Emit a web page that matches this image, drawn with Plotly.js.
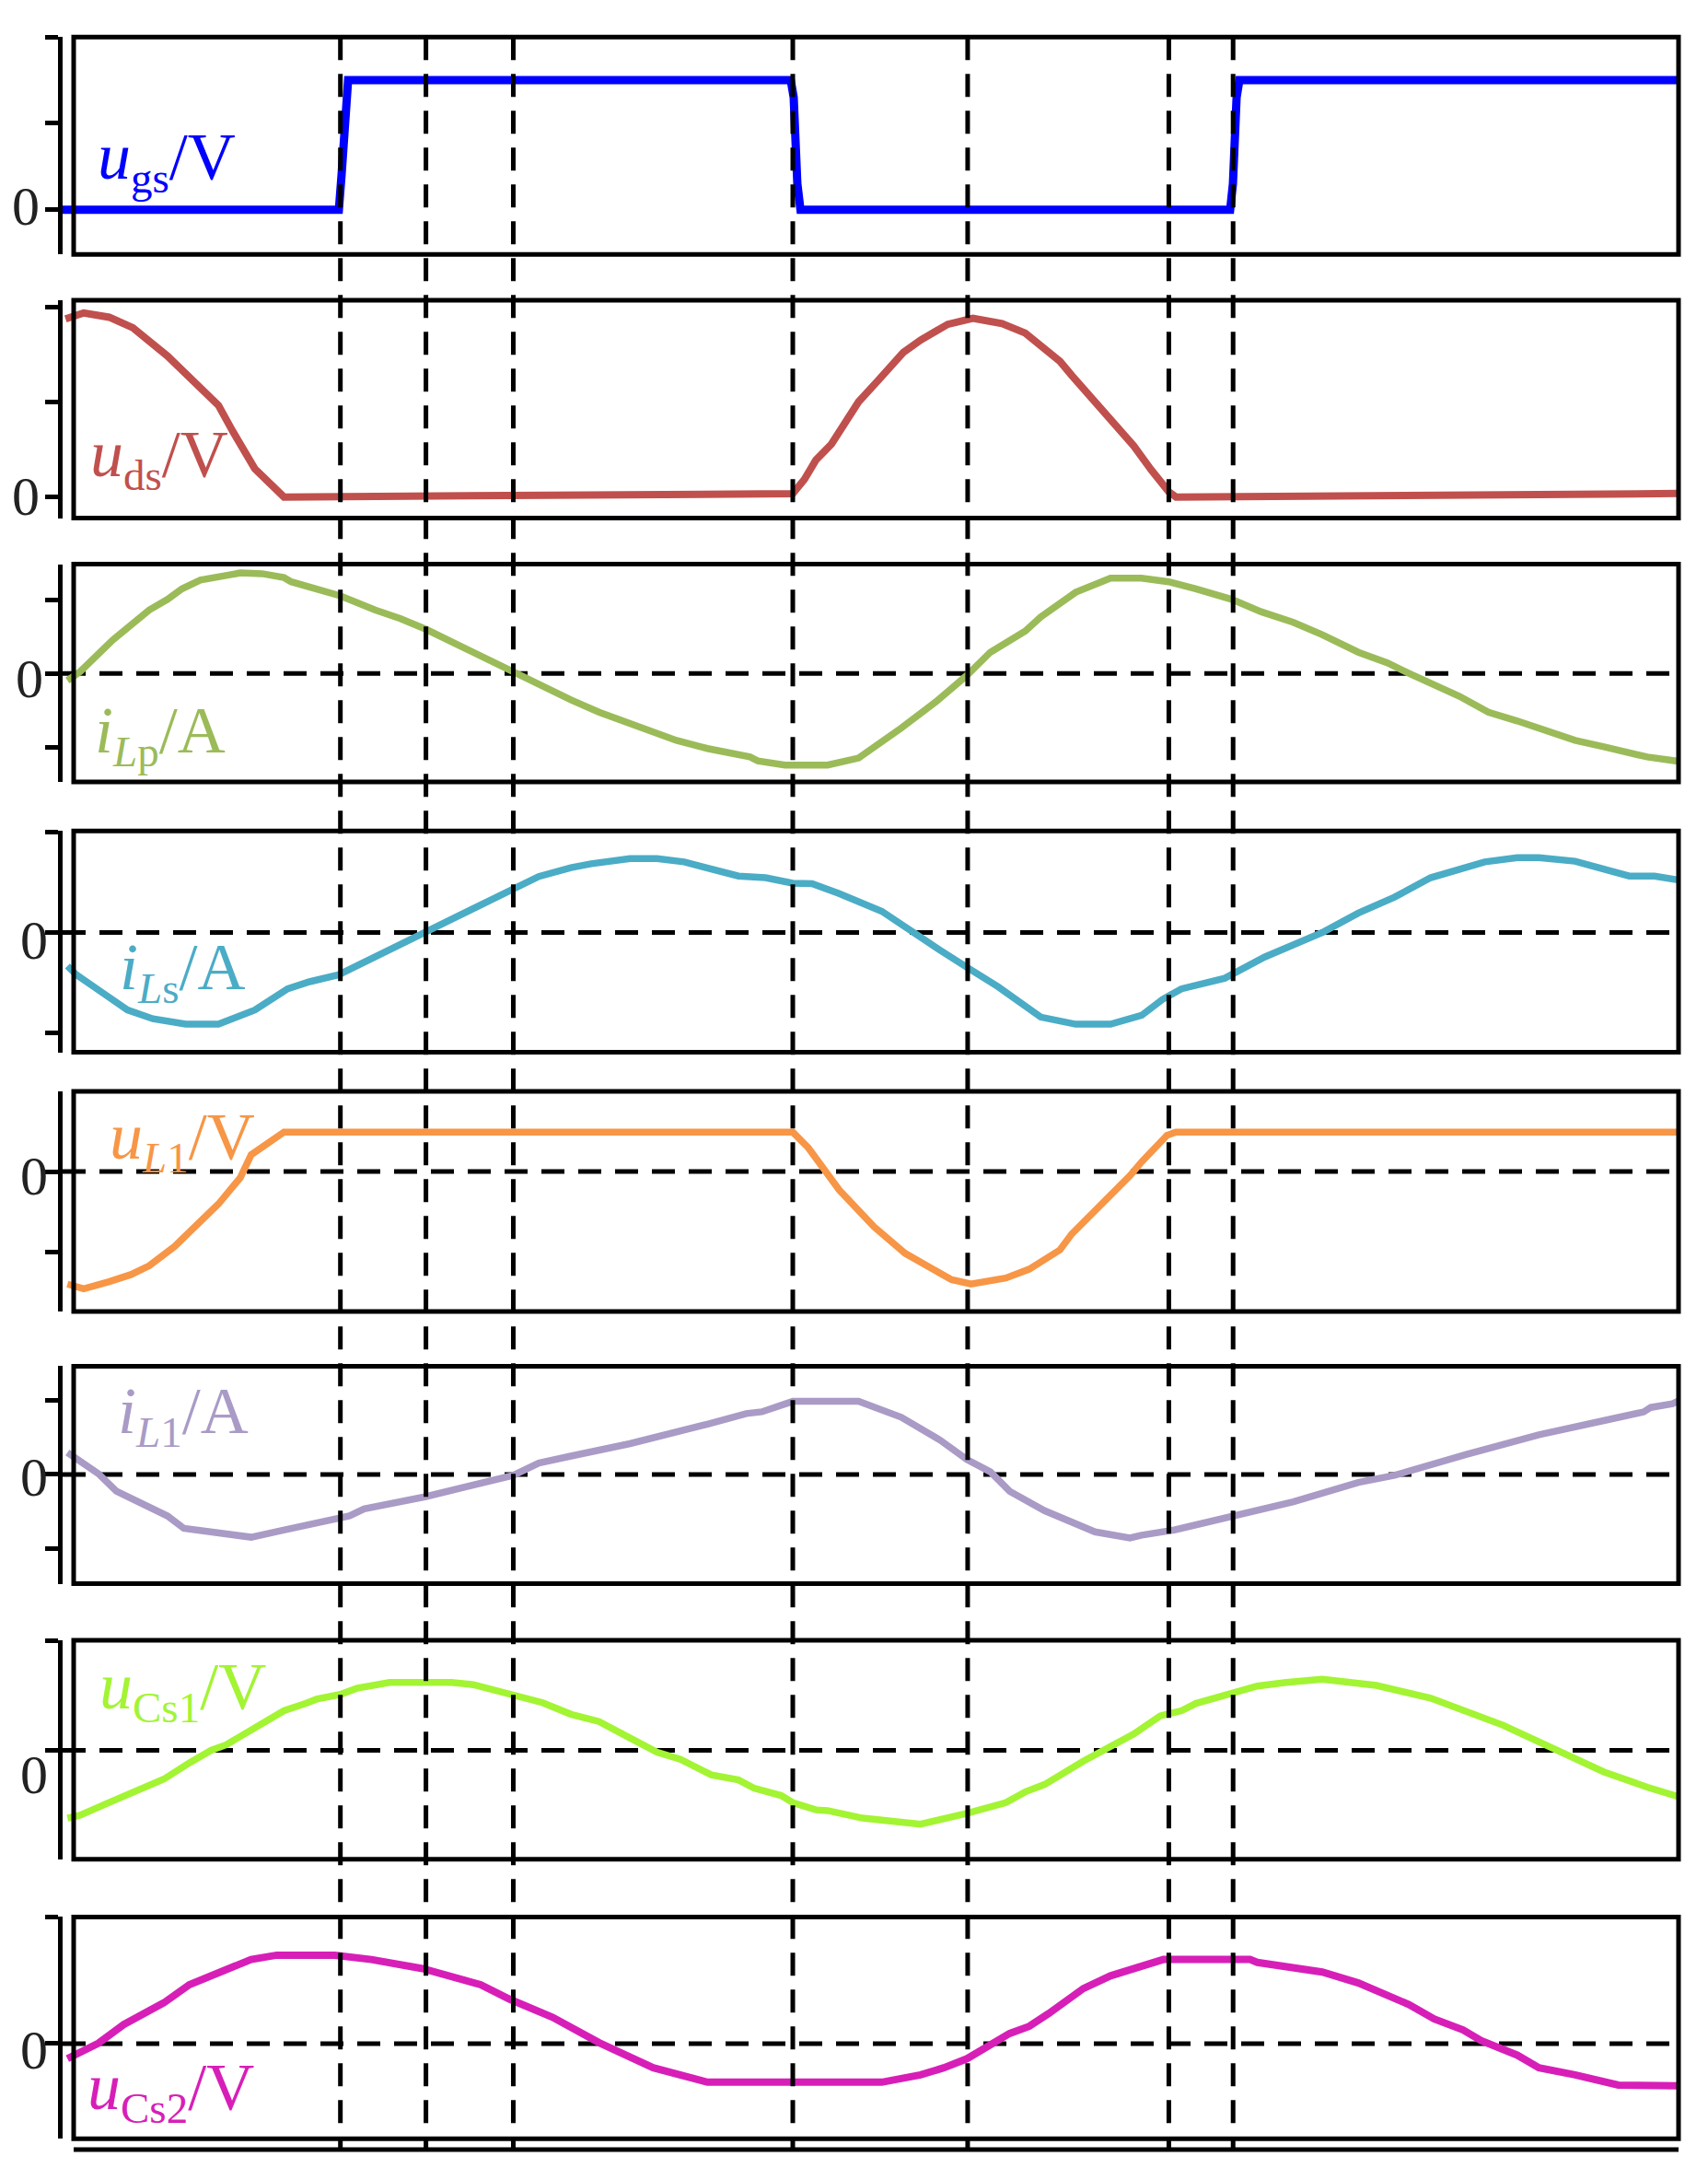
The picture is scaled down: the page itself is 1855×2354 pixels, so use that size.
<!DOCTYPE html>
<html>
<head>
<meta charset="utf-8">
<script src="https://cdn.plot.ly/plotly-3.0.1.min.js"></script>
<style>html,body{margin:0;padding:0;background:#fff;}#chart{width:1855px;height:2354px;}</style>
</head>
<body>
<div id="chart"></div>
<script>
// ---------------- data (time in µs, values in per-panel tick units) ----------------
const markerTimes = [3.107, 4.064, 5.041, 8.167, 10.123, 12.373, 13.092];

const ugsT = [0, 3.090, 3.120, 3.162, 3.193, 8.144, 8.177, 8.218, 8.253, 13.059, 13.090, 13.131, 13.162, 18.08];
const ugsV = [0, 0, 0.4, 1.3, 1.5, 1.5, 1.3, 0.3, 0, 0, 0.3, 1.3, 1.5, 1.5];

const udsT = [0.033, 0.236, 0.521, 0.786, 1.173, 1.743, 1.906, 2.150, 2.476, 3.107, 5.685, 8.166, 8.297, 8.426, 8.599, 8.903, 9.119, 9.402, 9.596, 9.900, 10.181, 10.507, 10.767, 11.156, 11.287, 11.764, 11.980, 12.173, 12.373, 12.454, 13.481, 15.301, 18.085];
const udsV = [1.877, 1.940, 1.895, 1.783, 1.486, 0.966, 0.687, 0.297, 0, 0.005, 0.02, 0.035, 0.185, 0.39, 0.557, 1.003, 1.226, 1.523, 1.653, 1.82, 1.883, 1.828, 1.728, 1.43, 1.282, 0.78, 0.539, 0.29, 0.055, 0, 0.005, 0.018, 0.037];

const iLpT = [0.054, 0.196, 0.562, 0.969, 1.173, 1.336, 1.540, 1.743, 1.988, 2.232, 2.476, 2.557, 2.842, 3.107, 3.494, 3.780, 4.064, 4.349, 4.716, 5.041, 5.368, 5.685, 5.999, 6.303, 6.866, 7.213, 7.516, 7.689, 7.775, 8.079, 8.556, 8.903, 9.380, 9.770, 10.116, 10.377, 10.767, 10.940, 11.331, 11.721, 12.067, 12.373, 12.676, 13.079, 13.403, 13.766, 14.088, 14.493, 14.817, 15.059, 15.624, 15.947, 16.270, 16.593, 16.917, 17.240, 17.562, 17.724, 18.088];
const iLpV = [-0.095, 0.024, 0.455, 0.861, 1.005, 1.149, 1.268, 1.306, 1.364, 1.354, 1.301, 1.244, 1.149, 1.053, 0.861, 0.743, 0.599, 0.431, 0.216, 0, -0.191, -0.359, -0.526, -0.669, -0.909, -1.019, -1.1, -1.134, -1.186, -1.244, -1.244, -1.148, -0.741, -0.383, -0.024, 0.288, 0.575, 0.766, 1.101, 1.293, 1.293, 1.244, 1.149, 1.005, 0.838, 0.694, 0.526, 0.288, 0.144, 0, -0.31, -0.526, -0.645, -0.789, -0.909, -0.995, -1.085, -1.134, -1.195];

const iLsT = [0.054, 0.154, 0.440, 0.725, 1.010, 1.377, 1.743, 2.150, 2.517, 2.761, 3.087, 3.494, 4.064, 4.593, 5.001, 5.326, 5.685, 5.912, 6.346, 6.649, 6.953, 7.559, 7.863, 8.166, 8.383, 8.686, 9.163, 9.510, 9.813, 10.116, 10.463, 10.940, 11.331, 11.721, 11.937, 12.070, 12.300, 12.514, 12.999, 13.443, 14.089, 14.493, 14.897, 15.301, 15.906, 16.270, 16.513, 16.917, 17.522, 17.805, 18.088];
const iLsV = [-0.334, -0.422, -0.598, -0.774, -0.862, -0.916, -0.916, -0.774, -0.563, -0.492, -0.422, -0.246, 0, 0.229, 0.405, 0.56, 0.648, 0.687, 0.739, 0.739, 0.705, 0.564, 0.547, 0.493, 0.487, 0.388, 0.212, 0, -0.176, -0.348, -0.542, -0.845, -0.916, -0.916, -0.862, -0.827, -0.67, -0.563, -0.457, -0.246, 0, 0.194, 0.353, 0.547, 0.705, 0.748, 0.748, 0.712, 0.564, 0.564, 0.522];

const uL1T = [0.054, 0.236, 0.521, 0.765, 0.969, 1.254, 1.498, 1.743, 1.988, 2.109, 2.476, 8.167, 8.340, 8.470, 8.686, 9.076, 9.423, 9.943, 10.160, 10.550, 10.811, 11.156, 11.287, 11.937, 12.070, 12.353, 12.454, 18.088];
const uL1V = [-1.396, -1.453, -1.365, -1.278, -1.168, -0.928, -0.665, -0.402, -0.074, 0.209, 0.49, 0.49, 0.296, 0.100, -0.227, -0.686, -1.014, -1.342, -1.395, -1.321, -1.211, -0.971, -0.774, -0.053, 0.122, 0.45, 0.49, 0.49];

const iL1T = [0.054, 0.400, 0.602, 1.010, 1.173, 1.356, 1.743, 2.109, 2.436, 2.639, 3.087, 3.209, 3.372, 4.064, 5.041, 5.326, 5.685, 6.346, 7.213, 7.646, 7.820, 8.167, 8.903, 9.380, 9.813, 10.116, 10.377, 10.593, 10.983, 11.547, 11.937, 12.070, 12.434, 12.676, 13.079, 13.403, 13.766, 14.493, 14.897, 15.704, 16.513, 17.320, 17.684, 17.764, 18.007, 18.088];
const iL1V = [0.296, 0.01, -0.228, -0.466, -0.561, -0.728, -0.8, -0.848, -0.762, -0.705, -0.586, -0.561, -0.466, -0.3, -0.013, 0.153, 0.247, 0.415, 0.678, 0.821, 0.845, 0.986, 0.986, 0.772, 0.464, 0.201, 0.034, -0.228, -0.49, -0.776, -0.858, -0.82, -0.75, -0.679, -0.56, -0.466, -0.37, -0.109, -0.013, 0.271, 0.534, 0.748, 0.843, 0.904, 0.953, 1.0];

const uCs1T = [0.054, 0.196, 0.521, 0.929, 1.132, 1.417, 1.661, 1.825, 2.150, 2.476, 2.720, 2.842, 3.107, 3.290, 3.657, 4.349, 4.593, 5.001, 5.368, 5.685, 5.999, 6.303, 6.649, 6.909, 7.256, 7.559, 7.733, 8.036, 8.167, 8.426, 8.556, 8.946, 9.380, 9.596, 10.116, 10.550, 10.767, 10.983, 11.417, 11.633, 11.980, 12.276, 12.514, 12.676, 12.877, 13.079, 13.363, 13.686, 14.089, 14.695, 15.301, 16.109, 16.715, 17.240, 17.724, 18.088];
const uCs1V = [-0.618, -0.592, -0.476, -0.344, -0.263, -0.115, 0, 0.049, 0.197, 0.361, 0.428, 0.467, 0.51, 0.566, 0.619, 0.619, 0.599, 0.52, 0.435, 0.329, 0.263, 0.131, -0.017, -0.082, -0.224, -0.27, -0.345, -0.412, -0.477, -0.543, -0.55, -0.618, -0.664, -0.674, -0.575, -0.477, -0.379, -0.312, -0.099, 0, 0.148, 0.314, 0.361, 0.428, 0.476, 0.51, 0.586, 0.619, 0.648, 0.592, 0.476, 0.23, 0, -0.197, -0.336, -0.427];

const uCs2T = [0.054, 0.400, 0.684, 1.132, 1.417, 1.661, 2.109, 2.394, 3.046, 3.453, 4.024, 4.675, 5.001, 5.479, 5.685, 5.999, 6.606, 7.213, 9.163, 9.596, 9.857, 10.116, 10.593, 10.811, 11.027, 11.417, 11.721, 12.070, 12.312, 13.281, 13.363, 14.089, 14.493, 15.059, 15.341, 15.664, 15.866, 16.270, 16.513, 16.917, 17.401, 18.088];
const uCs2V = [-0.119, 0.003, 0.151, 0.322, 0.465, 0.536, 0.664, 0.698, 0.698, 0.664, 0.592, 0.465, 0.35, 0.208, 0.123, 0.008, -0.191, -0.305, -0.305, -0.247, -0.191, -0.119, 0.08, 0.136, 0.236, 0.435, 0.535, 0.612, 0.664, 0.664, 0.641, 0.565, 0.479, 0.308, 0.194, 0.108, 0.023, -0.091, -0.191, -0.247, -0.327, -0.333];

const seriesLabels = [
  '<i>u</i><sub><span style="font-size:47px">gs</span></sub>/V',
  '<i>u</i><sub><span style="font-size:47px">ds</span></sub>/V',
  '<i>i</i><sub><span style="font-size:47px"><i>L</i>p</span></sub>/A',
  '<i>i</i><sub><span style="font-size:47px"><i>L</i>s</span></sub>/A',
  '<i>u</i><sub><span style="font-size:47px"><i>L</i>1</span></sub>/V',
  '<i>i</i><sub><span style="font-size:47px"><i>L</i>1</span></sub>/A',
  '<i>u</i><sub><span style="font-size:47px">Cs1</span></sub>/V',
  '<i>u</i><sub><span style="font-size:47px">Cs2</span></sub>/V'
];
const zeroText = '0';

// ---------------- layout geometry / styles ----------------
const W = 1855, H = 2354;
const seriesT = [ugsT, udsT, iLpT, iLsT, uL1T, iL1T, uCs1T, uCs2T];
const seriesV = [ugsV, udsV, iLpV, iLsV, uL1V, iL1V, uCs1V, uCs2V];
const colors = ['#0000FF', '#C0504D', '#9BBB59', '#4BACC6', '#F79646', '#A99BC6', '#A3F433', '#D71FB8'];
const lineW = [9, 8, 7.5, 7.5, 7.5, 7.5, 7.5, 8];
const pTop = [40.2, 326, 612.5, 902.2, 1184.9, 1483.4, 1781.1, 2081.4];
const pBot = [276.3, 562.6, 849, 1142.6, 1424, 1719.5, 2018.8, 2322.2];
const pRange = [[-0.518, 2.0], [-0.223, 2.074], [-1.4725, 1.484], [-1.197, 1.015], [-1.736, 0.997], [-1.475, 1.461], [-0.994, 1.003], [-0.751, 1.0]];
const pTicks = [[0, 1, 2], [0, 1, 2], [-1, 0, 1], [-1, 0, 1], [-1, 0, 1], [-1, 0, 1], [-1, 0, 1], [0, 1]];
const pZeroDash = [false, false, true, true, true, true, true, true];
const zeroLabX = [27.7, 27.7, 32.2, 37.2, 37.2, 37.2, 37.2, 37.2];
const zeroLabShift = [3.8, 1, -5.8, -8.5, -4.6, -3, -26.5, -6.6];
const labX = [104, 96, 101, 128, 117, 126, 106, 93];
const labY = [175, 497, 797, 1054, 1238, 1536, 1835, 2270];

const xLeft = 68, frameLeft = 80, frameRight = 1823, bottomLine = 2334;
const tEnd = (frameRight - xLeft) / 97.1;

const traces = [];
const layout = {
  width: W, height: H,
  margin: {l: 0, r: 0, t: 0, b: 0},
  paper_bgcolor: '#fff', plot_bgcolor: 'rgba(0,0,0,0)',
  showlegend: false,
  font: {family: 'Liberation Serif', size: 60, color: '#222'},
  xaxis: {domain: [xLeft / W, frameRight / W], range: [0, tEnd], visible: false, fixedrange: true, anchor: 'y8'},
  shapes: [], annotations: []
};
const dash = '25px,15px';
const font = 'Liberation Serif';

for (let i = 0; i < 8; i++) {
  const yName = i === 0 ? 'y' : 'y' + (i + 1);
  const axKey = i === 0 ? 'yaxis' : 'yaxis' + (i + 1);
  traces.push({
    x: seriesT[i], y: seriesV[i], xaxis: 'x', yaxis: yName,
    mode: 'lines', line: {color: colors[i], width: lineW[i]},
    hoverinfo: 'skip', cliponaxis: false
  });
  layout[axKey] = {
    domain: [1 - pBot[i] / H, 1 - pTop[i] / H], range: pRange[i], anchor: 'x',
    showline: true, linecolor: '#000', linewidth: 5,
    ticks: 'outside', ticklen: 14, tickwidth: 5, tickcolor: '#000',
    tickmode: 'array', tickvals: pTicks[i], showticklabels: false,
    showgrid: false, zeroline: false, fixedrange: true
  };
  layout.shapes.push({type: 'rect', xref: 'paper', yref: 'paper',
    x0: frameLeft / W, x1: frameRight / W, y0: 1 - pBot[i] / H, y1: 1 - pTop[i] / H,
    line: {color: '#000', width: 5}, layer: 'above'});
  if (pZeroDash[i]) {
    layout.shapes.push({type: 'line', xref: 'paper', yref: yName,
      x0: xLeft / W, x1: frameRight / W, y0: 0, y1: 0,
      line: {color: '#000', width: 5, dash: dash}, layer: 'below'});
  }
  layout.annotations.push({xref: 'paper', yref: yName, x: zeroLabX[i] / W, y: 0,
    xanchor: 'center', yanchor: 'middle', yshift: zeroLabShift[i], showarrow: false,
    text: zeroText, font: {family: font, size: 60, color: '#222'}});
  layout.annotations.push({xref: 'paper', yref: 'paper', x: labX[i] / W, y: 1 - labY[i] / H,
    xanchor: 'left', yanchor: 'middle', showarrow: false,
    text: seriesLabels[i], font: {family: font, size: 72, color: colors[i]}});
}
for (const t of markerTimes) {
  layout.shapes.push({type: 'line', xref: 'x', yref: 'paper', x0: t, x1: t,
    y0: 1 - pTop[0] / H, y1: 1 - bottomLine / H,
    line: {color: '#000', width: 5, dash: dash}, layer: 'above'});
}
layout.shapes.push({type: 'line', xref: 'paper', yref: 'paper',
  x0: frameLeft / W, x1: frameRight / W, y0: 1 - bottomLine / H, y1: 1 - bottomLine / H,
  line: {color: '#000', width: 5}, layer: 'above'});

Plotly.newPlot('chart', traces, layout, {displayModeBar: false});
</script>
</body>
</html>
